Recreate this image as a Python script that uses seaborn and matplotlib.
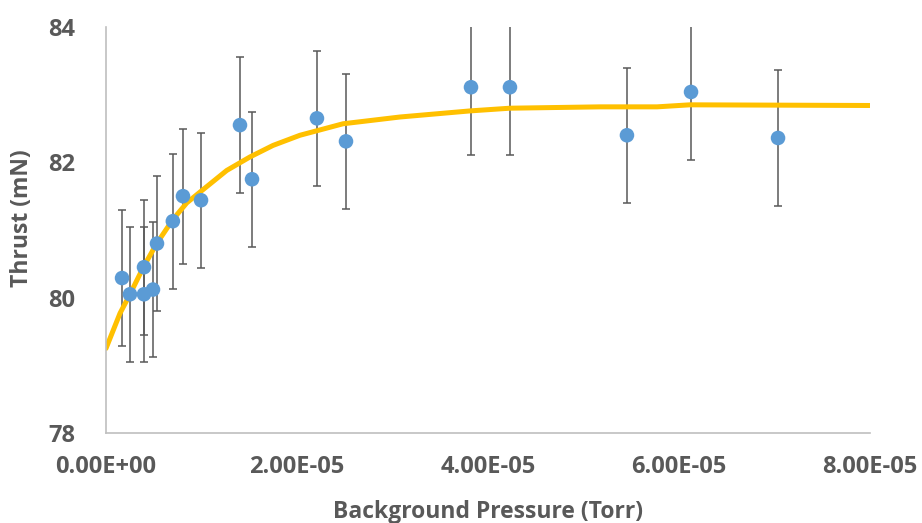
import matplotlib
matplotlib.use("Agg")
import matplotlib.pyplot as plt
import seaborn as sns
import pandas as pd
from matplotlib.ticker import FixedLocator

# Measured data (Background pressure in Torr, thrust in mN, error +/- mN)
pressure = [0.168e-5, 0.251e-5, 0.398e-5, 0.398e-5, 0.492e-5, 0.534e-5,
            0.700e-5, 0.806e-5, 0.995e-5, 1.403e-5, 1.529e-5, 2.209e-5,
            2.513e-5, 3.822e-5, 4.230e-5, 5.455e-5, 6.126e-5, 7.037e-5]
thrust = [80.29, 80.05, 80.05, 80.45, 80.12, 80.80,
          81.13, 81.50, 81.44, 82.55, 81.75, 82.65,
          82.31, 83.11, 83.11, 82.40, 83.04, 82.36]
thrust_err = [1.0] * len(thrust)

# Trend curve
curve_p = [0.0, 0.147e-5, 0.251e-5, 0.391e-5, 0.531e-5, 0.698e-5, 0.845e-5,
           0.984e-5, 1.264e-5, 1.508e-5, 1.749e-5, 2.031e-5, 2.482e-5,
           3.079e-5, 3.812e-5, 4.230e-5, 5.173e-5, 5.770e-5, 6.115e-5, 8.0e-5]
curve_t = [79.25, 79.77, 80.05, 80.45, 80.80, 81.15, 81.40,
           81.56, 81.88, 82.08, 82.25, 82.40, 82.57,
           82.67, 82.76, 82.80, 82.82, 82.82, 82.85, 82.84]

x_ticks = [0.0, 2e-5, 4e-5, 6e-5, 8e-5]
x_tick_labels = ["0.00E+00", "2.00E-05", "4.00E-05", "6.00E-05", "8.00E-05"]
y_ticks = [78, 80, 82, 84]
y_tick_labels = ["78", "80", "82", "84"]

sns.set_style("white")
plt.rcParams["font.family"] = ["Open Sans", "DejaVu Sans"]

df = pd.DataFrame({"p": pressure, "t": thrust, "e": thrust_err})
cf = pd.DataFrame({"p": curve_p, "t": curve_t})

fig = plt.figure(figsize=(9.22, 5.23), dpi=100)
ax = fig.add_axes([106/922, 1 - 433/523, (870-106)/922, (433-27)/523])

ax.errorbar(df["p"], df["t"], yerr=df["e"], fmt="none", ecolor="#595959",
            elinewidth=1.1, capsize=3.2, capthick=1.1, zorder=1)
sns.lineplot(data=cf, x="p", y="t", ax=ax, color="#FFC000", linewidth=3.6,
             zorder=2, estimator=None, sort=False)
sns.scatterplot(data=df, x="p", y="t", ax=ax, color="#5B9BD5", s=110,
                edgecolor="none", zorder=3)

ax.set_xlim(0, 8e-5)
ax.set_ylim(78, 84)
ax.xaxis.set_major_locator(FixedLocator(x_ticks))
ax.yaxis.set_major_locator(FixedLocator(y_ticks))
ax.set_xticklabels(x_tick_labels)
ax.set_yticklabels(y_tick_labels)

for lab in ax.get_xticklabels() + ax.get_yticklabels():
    lab.set_fontweight("bold")
    lab.set_color("#595959")
    lab.set_fontsize(17)

ax.tick_params(axis="x", length=0, pad=16)
ax.tick_params(axis="y", length=0, pad=22)

ax.set_xlabel("Background Pressure (Torr)", fontsize=16.5, fontweight="bold",
              color="#595959")
ax.set_ylabel("Thrust (mN)", fontsize=16.5, fontweight="bold", color="#595959")
ax.xaxis.set_label_coords(0.5, -0.165)
ax.yaxis.set_label_coords(-0.094, 0.53)

for s in ["top", "right"]:
    ax.spines[s].set_visible(False)
for s in ["left", "bottom"]:
    ax.spines[s].set_color("#BFBFBF")
    ax.spines[s].set_linewidth(1.2)

fig.savefig("out.png", dpi=100)
